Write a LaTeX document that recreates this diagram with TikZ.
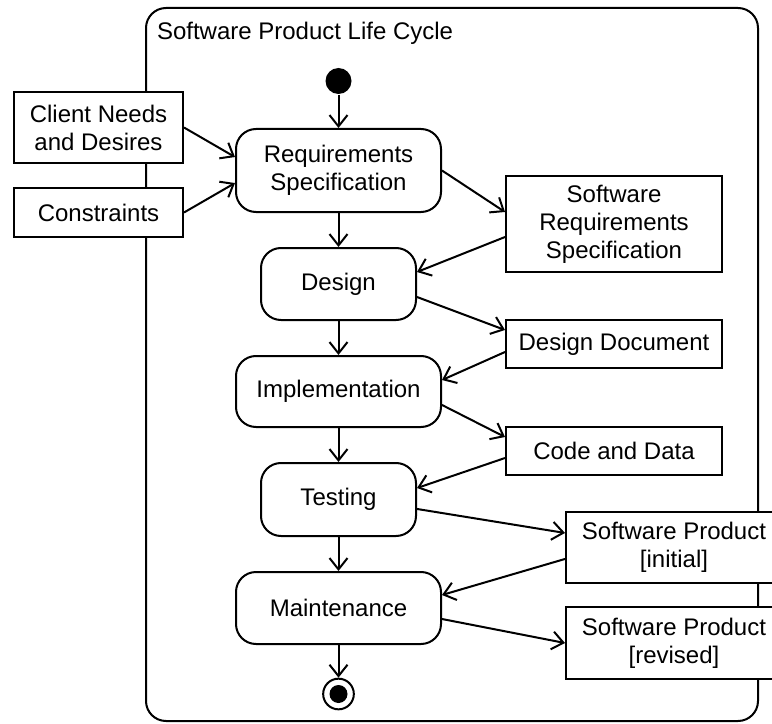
\documentclass[tikz,border=0pt]{standalone}
\usepackage{fontspec}
\setmainfont{Liberation Sans}
\usetikzlibrary{arrows.meta}
\begin{document}
\begin{tikzpicture}[x=0.75pt,y=-0.75pt, line width=1.5pt,
 lbl/.style={font=\fontsize{18pt}{21pt}\selectfont, align=center, inner sep=0pt},
 act/.style={lbl, draw, rounded corners=15pt, fill=white},
 obj/.style={lbl, draw, fill=white},
 flow/.style={-{Straight Barb[length=8.5pt,width=13.5pt]}},
]
\useasboundingbox (0,0) rectangle (772,724);
% frame
\node[draw, rounded corners=15pt, minimum width=459pt, minimum height=534.75pt, inner sep=0pt] (frame) at (452,364.5) {};
\node[lbl, anchor=base west] (title) at (156,40) {Software Product Life Cycle};
% start / end
\node[circle, fill, minimum size=19.5pt, inner sep=0pt] (start) at (338.5,81) {};
\node[circle, draw, minimum size=23pt, inner sep=0pt] (end) at (338.5,694) {};
\node[circle, fill, minimum size=13.5pt, inner sep=0pt] (endin) at (338.5,694) {};
% activities
\node[act, minimum width=153.75pt, minimum height=62.25pt] (req) at (338.5,170.5) {Requirements\\Specification};
\node[act, minimum width=116.25pt, minimum height=54pt] (design) at (338.5,284) {Design};
\node[act, minimum width=153.75pt, minimum height=53.25pt] (impl) at (338.5,391.5) {Implementation};
\node[act, minimum width=116.25pt, minimum height=54.75pt] (testing) at (338.5,499.5) {Testing};
\node[act, minimum width=153.75pt, minimum height=54pt] (maint) at (338.5,608) {Maintenance};
% objects
\node[obj, minimum width=126.75pt, minimum height=53.25pt] (client) at (98.5,127.5) {Client Needs\\and Desires};
\node[obj, minimum width=126.75pt, minimum height=36.75pt] (constr) at (98.5,212.5) {Constraints};
\node[obj, minimum width=162pt, minimum height=72pt] (srs) at (614,224) {Software\\Requirements\\Specification};
\node[obj, minimum width=162pt, minimum height=36pt] (dd) at (614,344) {Design Document};
\node[obj, minimum width=162pt, minimum height=36pt] (code) at (614,451) {Code and Data};
\node[obj, minimum width=162pt, minimum height=53.25pt] (spi) at (674,547.5) {Software Product\\{[initial]}};
\node[obj, minimum width=162pt, minimum height=54pt] (spr) at (674,643) {Software Product\\{[revised]}};
% control flow
\draw[flow] (start) -- (req);
\draw[flow] (req) -- (design);
\draw[flow] (design) -- (impl);
\draw[flow] (impl) -- (testing);
\draw[flow] (testing) -- (maint);
\draw[flow] (maint) -- (end);
% object flow
\draw[flow] (client.east) -- ([yshift=10.1pt]req.west);
\draw[flow] (constr.east) -- ([yshift=-9.4pt]req.west);
\draw[flow] (req.east) -- ([yshift=9pt]srs.west);
\draw[flow] ([yshift=-9.75pt]srs.west) -- ([yshift=9pt]design.east);
\draw[flow] ([yshift=-9.75pt]design.east) -- ([yshift=10.5pt]dd.west);
\draw[flow] ([yshift=-6pt]dd.west) -- ([yshift=8.6pt]impl.east);
\draw[flow] ([yshift=-10.1pt]impl.east) -- ([yshift=10.5pt]code.west);
\draw[flow] ([yshift=-5.25pt]code.west) -- ([yshift=8.6pt]testing.east);
\draw[flow] ([yshift=-7.1pt]testing.east) -- ([yshift=10.9pt]spi.west);
\draw[flow] ([yshift=-8.6pt]spi.west) -- ([yshift=9.75pt]maint.east);
\draw[flow] ([yshift=-8.25pt]maint.east) -- (spr.west);
\end{tikzpicture}
\end{document}
